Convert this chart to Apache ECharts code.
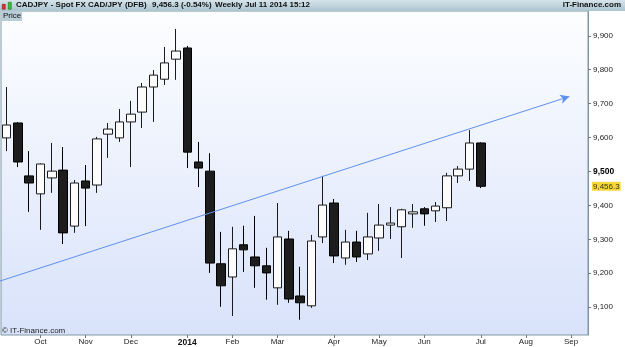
<!DOCTYPE html>
<html>
<head>
<meta charset="utf-8">
<script src="https://cdn.jsdelivr.net/npm/echarts@6/dist/echarts.min.js"></script>
<style>
html, body { margin: 0; padding: 0; background: #fff; }
#chart { width: 625px; height: 347px; }
</style>
</head>
<body>
<div id="chart"></div>
<script>
// CADJPY weekly candles, Sep 2013 - Jul 2014
// week start dates, axis runs on to Sep 2014 (empty weeks on the right)
const weeks = [
  '2013-09-16', '2013-09-23', '2013-09-30', '2013-10-07', '2013-10-14', '2013-10-21', '2013-10-28',
  '2013-11-04', '2013-11-11', '2013-11-18', '2013-11-25', '2013-12-02', '2013-12-09', '2013-12-16',
  '2013-12-23', '2013-12-30', '2014-01-06', '2014-01-13', '2014-01-20', '2014-01-27', '2014-02-03',
  '2014-02-10', '2014-02-17', '2014-02-24', '2014-03-03', '2014-03-10', '2014-03-17', '2014-03-24',
  '2014-03-31', '2014-04-07', '2014-04-14', '2014-04-21', '2014-04-28', '2014-05-05', '2014-05-12',
  '2014-05-19', '2014-05-26', '2014-06-02', '2014-06-09', '2014-06-16', '2014-06-23', '2014-06-30',
  '2014-07-07', '2014-07-14', '2014-07-21', '2014-07-28', '2014-08-04', '2014-08-11', '2014-08-18',
  '2014-08-25', '2014-09-01', '2014-09-08',
]
const monthNames = ['2014', 'Feb', 'Mar', 'Apr', 'May', 'Jun', 'Jul', 'Aug', 'Sep', 'Oct', 'Nov', 'Dec']

const opens  = [9599, 9643, 9487, 9434, 9481, 9504, 9339, 9472, 9460, 9610, 9599, 9646, 9675, 9749, 9772,
                9831, 9864, 9528, 9501, 9228, 9189, 9284, 9248, 9222, 9157, 9301, 9133, 9104, 9307, 9407,
                9245, 9292, 9257, 9304, 9342, 9337, 9375, 9390, 9384, 9393, 9487, 9507, 9584]
const closes = [9637, 9528, 9466, 9522, 9501, 9319, 9466, 9451, 9596, 9625, 9646, 9669, 9749, 9784, 9820,
                9855, 9557, 9510, 9230, 9163, 9272, 9269, 9222, 9201, 9307, 9124, 9113, 9295, 9401, 9251,
                9292, 9248, 9307, 9342, 9348, 9387, 9381, 9375, 9398, 9487, 9507, 9584, 9456.3]
const lows   = [9560, 9513, 9381, 9328, 9437, 9286, 9319, 9339, 9437, 9540, 9587, 9513, 9628, 9646, 9755,
                9770, 9510, 9454, 9201, 9101, 9074, 9204, 9157, 9122, 9107, 9113, 9063, 9098, 9289, 9230,
                9225, 9233, 9239, 9266, 9301, 9245, 9334, 9340, 9351, 9354, 9466, 9472, 9451]
const highs  = [9749, 9645, 9560, 9524, 9584, 9572, 9475, 9519, 9602, 9643, 9684, 9708, 9761, 9799, 9867,
                9920, 9870, 9587, 9554, 9322, 9337, 9340, 9369, 9275, 9407, 9325, 9219, 9313, 9487, 9419,
                9328, 9325, 9378, 9404, 9395, 9390, 9404, 9395, 9410, 9496, 9516, 9622, 9586]

const lastPrice = 9456.3
const yTicks = [9100, 9200, 9300, 9400, 9500, 9600, 9700, 9800, 9900]

// trend line drawn by hand on the original: [week index, price]
const trendStart = [-0.59, 9177]
const trendEnd = [49.85, 9721]

const candles = opens.map((o, i) => [o, closes[i], lows[i], highs[i]])

const fmt = v => String(v).replace(/\B(?=(\d{3})+(?!\d))/g, ',')
const isMonthStart = w => Number(w.slice(8)) <= 7
const FONT = "'Liberation Sans', Arial, sans-serif"

const chart = echarts.init(document.getElementById('chart'), null, { renderer: 'canvas' })
chart.setOption({
  animation: false,
  backgroundColor: '#fff',
  textStyle: { fontFamily: FONT },
  grid: {
    left: 1, right: 37, top: 11, bottom: 12,
    show: true,
    borderColor: '#7f97a4',
    borderWidth: 1,
    backgroundColor: new echarts.graphic.LinearGradient(0, 0, 0, 1, [
      { offset: 0, color: '#fdfeff' },
      { offset: 1, color: '#d8e2fa' },
    ]),
  },
  xAxis: [{
    type: 'category',
    data: weeks,
    boundaryGap: true,
    axisLine: { show: false },
    axisTick: {
      show: true, length: 3, alignWithLabel: true,
      interval: (i, w) => isMonthStart(w),
      lineStyle: { color: '#777' },
    },
    axisLabel: {
      interval: (i, w) => isMonthStart(w),
      margin: 3,
      fontSize: 8,
      color: '#222',
      formatter: w => {
        const m = Number(w.slice(5, 7)) - 1
        return m === 0 ? '{b|2014}' : monthNames[m]
      },
      rich: { b: { fontSize: 8.5, fontWeight: 'bold', color: '#111' } },
    },
    splitLine: { show: false },
  }, {
    type: 'value',
    min: -0.5,
    max: 51.5,
    show: false,
  }],
  yAxis: {
    type: 'value',
    position: 'right',
    min: 9018,
    max: 9973,
    splitLine: { show: false },
    axisLine: { show: true, onZero: false, lineStyle: { color: '#7f97a4' } },
    axisTick: { show: true, length: 3, customValues: yTicks, lineStyle: { color: '#777' } },
    axisLabel: {
      customValues: yTicks,
      margin: 5,
      fontSize: 8,
      color: '#222',
      formatter: v => v === 9500 ? '{b|' + fmt(v) + '}' : fmt(v),
      rich: { b: { fontSize: 8.5, fontWeight: 'bold', color: '#000' } },
    },
  },
  series: [{
    type: 'candlestick',
    data: candles,
    barWidth: 9,
    itemStyle: {
      color: '#fcfcfc',
      color0: '#1d1d1d',
      borderColor: '#1a1a1a',
      borderColor0: '#000',
      borderWidth: 1,
    },
  }, {
    // hand drawn trend line with arrow head
    type: 'line',
    xAxisIndex: 1,
    clip: false,
    silent: true,
    data: [
      { value: trendStart, symbol: 'none' },
      { value: trendEnd, symbol: 'arrow', symbolSize: [7, 9], symbolRotate: -72 },
    ],
    showSymbol: true,
    lineStyle: { color: '#5f8ff0', width: 1 },
    itemStyle: { color: '#5f8ff0' },
    z: 3,
  }, {
    // last price tag on the price axis
    type: 'scatter',
    xAxisIndex: 1,
    clip: false,
    silent: true,
    symbolSize: 0,
    data: [[51.5, lastPrice]],
    label: {
      show: true,
      position: 'right',
      distance: 4,
      formatter: fmt(lastPrice),
      fontSize: 8,
      color: '#000',
      backgroundColor: '#f3cf0a',
      padding: [1, 1, 0, 1],
    },
  }],
  graphic: [
    // title bar
    {
      type: 'rect', left: 0, top: 0, z: 100,
      shape: { width: 625, height: 11 },
      style: {
        fill: new echarts.graphic.LinearGradient(0, 0, 0, 1, [
          { offset: 0, color: '#d6e4ea' },
          { offset: 1, color: '#aac4cf' },
        ]),
      },
    },
    // small candle icon
    { type: 'rect', left: 2, top: 4, z: 101, shape: { width: 3, height: 5 }, style: { fill: '#e03030', stroke: '#800', lineWidth: 0.5 } },
    { type: 'rect', left: 8, top: 2, z: 101, shape: { width: 3, height: 7 }, style: { fill: '#3cc03c', stroke: '#060', lineWidth: 0.5 } },
    { type: 'text', left: 16, top: 1, z: 102, style: { text: 'CADJPY - Spot FX CAD/JPY (DFB)', font: 'bold 8px ' + FONT, fill: '#111' } },
    { type: 'text', left: 152, top: 1, z: 102, style: { text: '9,456.3 (-0.54%)', font: 'bold 8px ' + FONT, fill: '#111' } },
    { type: 'text', left: 215, top: 1, z: 102, style: { text: 'Weekly', font: 'bold 8px ' + FONT, fill: '#111' } },
    { type: 'text', left: 245, top: 1, z: 102, style: { text: 'Jul 11 2014 15:12', font: 'bold 8px ' + FONT, fill: '#111' } },
    { type: 'text', right: 4, top: 1, z: 102, style: { text: 'IT-Finance.com', font: 'bold 8px ' + FONT, fill: '#111' } },
    // Price tab
    { type: 'rect', left: 1, top: 11, z: 100, shape: { width: 21, height: 10 }, style: { fill: '#b9cdd6' } },
    { type: 'text', left: 3, top: 12, z: 101, style: { text: 'Price', font: '8px ' + FONT, fill: '#111' } },
    // copyright
    { type: 'text', left: 2, top: 327, z: 101, style: { text: '\u00a9 IT-Finance.com', font: '8px ' + FONT, fill: '#222' } },
  ],
})
</script>
</body>
</html>
